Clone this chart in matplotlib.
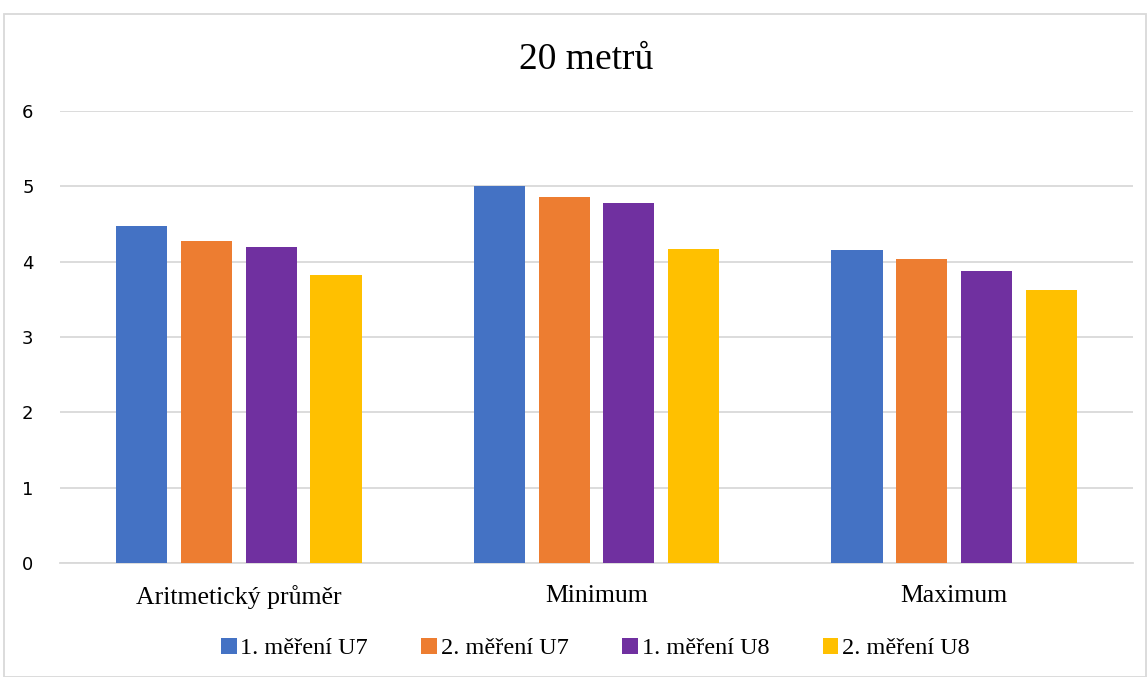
import numpy as np
import matplotlib
matplotlib.use("Agg")
import matplotlib.pyplot as plt
from matplotlib.patches import Rectangle

categories = ["Aritmetický průměr", "Minimum", "Maximum"]
series_names = ["1. měření U7", "2. měření U7", "1. měření U8", "2. měření U8"]
u7_1 = [4.47, 5.01, 4.15]
u7_2 = [4.27, 4.86, 4.04]
u8_1 = [4.19, 4.78, 3.88]
u8_2 = [3.82, 4.17, 3.62]
colors = ["#4472C4", "#ED7D31", "#7030A0", "#FFC000"]
yticks = [0, 1, 2, 3, 4, 5, 6]

serif = ["Liberation Serif", "DejaVu Serif"]

fig = plt.figure(figsize=(11.47, 6.77), dpi=100)
ax = fig.add_axes([0.0523, 0.1684, 0.9355, 0.6676])

x = np.arange(len(categories))
width = 0.143
pitch = 0.181
for i, (vals, name, c) in enumerate(zip([u7_1, u7_2, u8_1, u8_2], series_names, colors)):
    ax.bar(x + (i - 1.5) * pitch, vals, width, color=c, label=name, zorder=3)

ax.set_xlim(-0.5, 2.5)
ax.set_ylim(0, 6)
ax.set_yticks(yticks)
ax.yaxis.grid(True, color="#D9D9D9", linewidth=1.3, zorder=0)
ax.tick_params(axis="y", length=0, labelsize=13, pad=19, labelcolor="#000000")
ax.tick_params(axis="x", length=0, pad=16)
ax.set_xticks(x)
ax.set_xticklabels(categories, fontfamily=serif, fontsize=18.5)
for s in ["top", "right", "left"]:
    ax.spines[s].set_visible(False)
ax.spines["bottom"].set_color("#D9D9D9")
ax.spines["bottom"].set_linewidth(1.3)

fig.text(0.511, 0.912, "20 metrů", ha="center", va="center", fontfamily=serif, fontsize=27)

leg = fig.legend(loc="center", bbox_to_anchor=(0.519, 0.042), ncol=4, frameon=False,
                 prop={"family": serif, "size": 17.5}, handlelength=0.65, handleheight=0.65,
                 handletextpad=0.15, columnspacing=2.2)

fig.patches.append(Rectangle((4 / 1147, 0), 1 - 5 / 1147, 1 - 14 / 677, transform=fig.transFigure,
                             fill=False, edgecolor="#D9D9D9", linewidth=1.3))

fig.savefig("out.png", dpi=100)
